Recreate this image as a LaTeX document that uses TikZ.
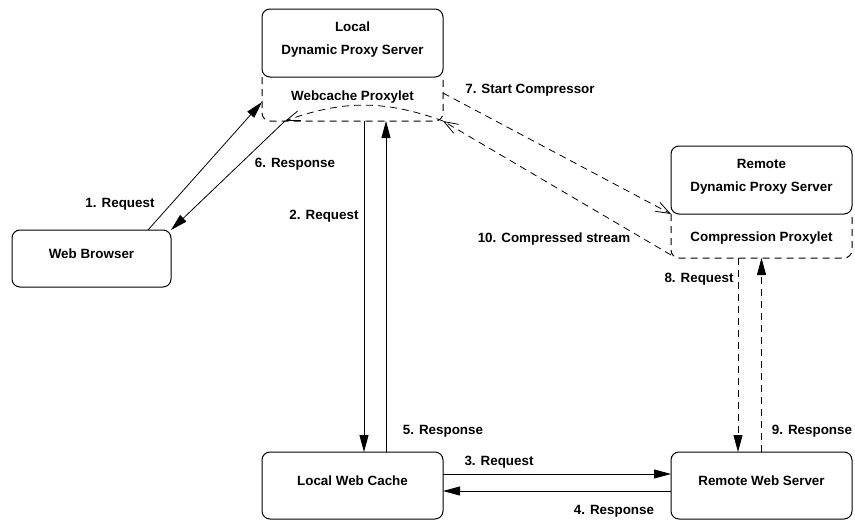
\documentclass[tikz,border=0pt]{standalone}
\usepackage{fontspec}
\setmainfont{Liberation Sans}
\usetikzlibrary{arrows.meta, positioning, calc}

\begin{document}
\begin{tikzpicture}[x=1pt, y=-1pt, font=\bfseries\fontsize{13.4}{23}\selectfont]
    % Node Styles
    \tikzstyle{server} = [rectangle, draw, line width=1pt, rounded corners=8pt, minimum width=181pt, minimum height=68pt, inner sep=0pt, outer sep=0pt, align=center, text height=10pt, text depth=9.4pt]
    \tikzstyle{proxylet} = [rectangle, minimum width=181pt, minimum height=44pt, inner sep=0pt, outer sep=0pt, text height=10pt, text depth=0pt]
    \tikzstyle{outline} = [draw, line width=1pt, dash pattern=on 7pt off 5pt, rounded corners=8pt]
    \tikzstyle{msg} = [inner sep=0pt, text height=9.6pt, text depth=0pt]
    \tikzstyle{flow} = [draw, line width=0.8pt, -{Triangle[length=17pt, width=9pt]}]
    \tikzstyle{dflow} = [draw, line width=0.8pt, dash pattern=on 7pt off 5pt, -{Triangle[length=17pt, width=9pt]}]
    \tikzstyle{signal} = [draw, line width=0.8pt, dash pattern=on 7pt off 5pt, -{Straight Barb[length=14pt, width=10pt]}]

    \useasboundingbox (0,0) rectangle (855,520);

    % --- PROXY SERVERS ---
    \node [server, text height=33pt] (ldps) at (352.5,43) {Local\\Dynamic Proxy Server};
    \node [proxylet, text depth=7.4pt, below=0pt of ldps] (wcp) {Webcache Proxylet};
    \node [server, text height=33pt] (rdps) at (761.5,180) {Remote\\Dynamic Proxy Server};
    \node [proxylet, below=0pt of rdps] (cp) {Compression Proxylet};

    \path [outline] (wcp.north west) -- (wcp.south west) -- (wcp.south east) -- (wcp.north east);
    \path [outline] (cp.north west) -- (cp.south west) -- (cp.south east) -- (cp.north east);

    % --- CLIENT AND WEB ---
    \node [server, minimum width=159pt, minimum height=57pt] (wb) at (91.5,258.5) {Web Browser};
    \node [server, minimum height=67pt] (lwc) at (352.5,485.5) {Local Web Cache};
    \node [server, minimum height=67pt] (rws) at (761.5,485.5) {Remote Web Server};

    % --- PATHS ---
    \coordinate (turn) at ($(wcp.south west)+(23,0)$);
    \path [flow] ($(wb.north east)+(-23,0)$) -- ($(wcp.west)+(0,3)$);
    \path [signal] (wcp.south east) to[bend right=20] (turn);
    \path [flow] (turn) -- (wb.north east);

    \path [flow] ($(wcp.south)+(11.5,0)$) -- ($(lwc.north)+(11.5,0)$);
    \path [flow] ($(lwc.north)+(33.5,0)$) -- ($(wcp.south)+(33.5,0)$);
    \path [flow] ($(lwc.east)+(0,-11.5)$) -- ($(rws.west)+(0,-11.5)$);
    \path [flow] ($(rws.west)+(0,5.5)$) -- ($(lwc.east)+(0,5.5)$);

    \path [signal] ($(wcp.north east)+(0,16)$) -- (cp.north west);
    \path [signal] ($(cp.south west)+(0,-3)$) -- (wcp.south east);

    \path [dflow] ($(cp.south)+(-23.5,0)$) -- ($(rws.north)+(-23.5,0)$);
    \path [dflow] (rws.north) -- (cp.south);

    % --- LABELS ---
    \node [msg] (l1) at (120,203) {1. Request};
    \node [msg] (l2) at (324,215) {2. Request};
    \node [msg] (l3) at (499,461) {3. Request};
    \node [msg] (l4) at (614,510) {4. Response};
    \node [msg] (l5) at (443,430) {5. Response};
    \node [msg] (l6) at (295,163) {6. Response};
    \node [msg] (l7) at (530,89) {7. Start Compressor};
    \node [msg] (l8) at (699,278) {8. Request};
    \node [msg] (l9) at (812,430) {9. Response};
    \node [msg] (l10) at (554,238) {10. Compressed stream};

\end{tikzpicture}
\end{document}
